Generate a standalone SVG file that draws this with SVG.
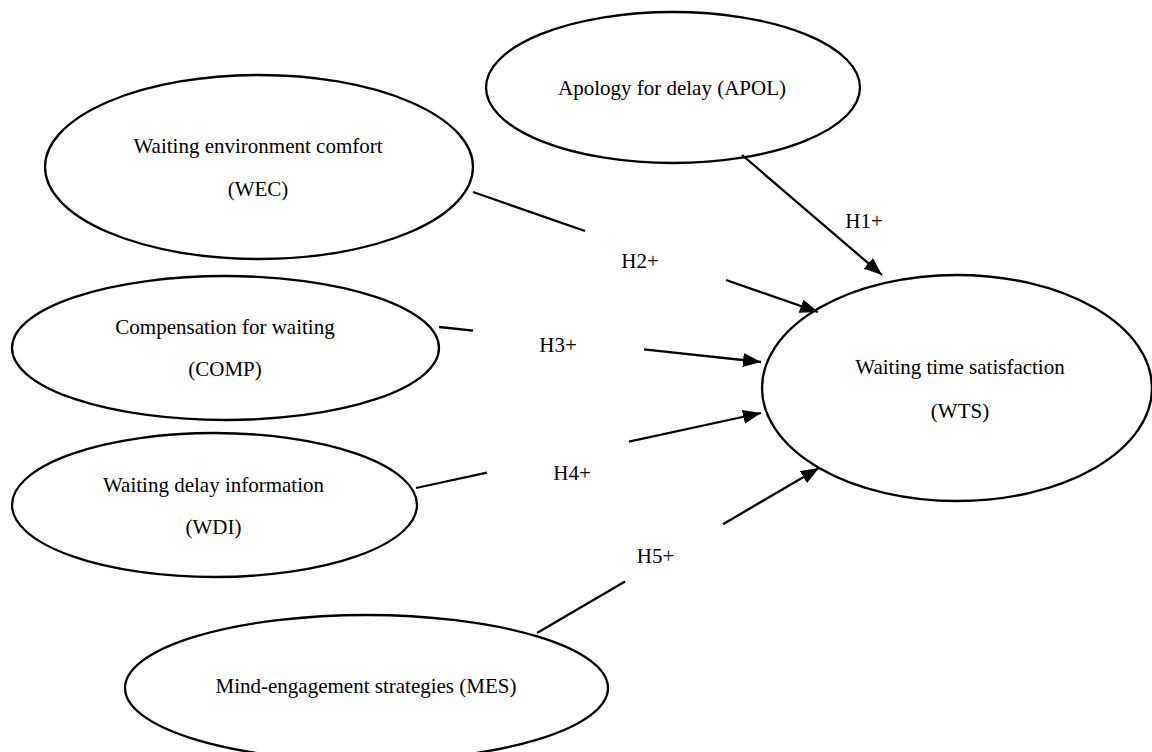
<svg xmlns="http://www.w3.org/2000/svg" width="1152" height="752" viewBox="0 0 1152 752">
  <style>
    .node ellipse { fill: #ffffff; stroke: #000000; stroke-width: 2.3; }
    .node text, .lbl { font-family: "Liberation Serif", "Times New Roman", serif; font-size: 21px; fill: #000000; text-anchor: middle; }
    .conn line { stroke: #000000; stroke-width: 2.3; fill: none; }
  </style>
  <defs>
    <marker id="arrow" viewBox="0 0 18 14" refX="18" refY="7" markerWidth="18" markerHeight="14" markerUnits="userSpaceOnUse" orient="auto">
      <path d="M0,0 L18,7 L0,14 z" fill="#000000"/>
    </marker>
  </defs>
  <rect x="0" y="0" width="1152" height="752" fill="#ffffff"/>

  <g id="node-apol" class="node">
    <ellipse cx="673" cy="87.5" rx="187" ry="75.5"/>
    <text x="672" y="95">Apology for delay (APOL)</text>
  </g>
  <g id="node-wec" class="node">
    <ellipse cx="259" cy="167" rx="214" ry="92"/>
    <text x="258" y="153">Waiting environment comfort</text>
    <text x="258" y="196">(WEC)</text>
  </g>
  <g id="node-comp" class="node">
    <ellipse cx="225.5" cy="348" rx="213.5" ry="72"/>
    <text x="225" y="334">Compensation for waiting</text>
    <text x="225" y="376">(COMP)</text>
  </g>
  <g id="node-wdi" class="node">
    <ellipse cx="214.5" cy="505" rx="202.5" ry="72"/>
    <text x="213.5" y="492">Waiting delay information</text>
    <text x="213.5" y="534">(WDI)</text>
  </g>
  <g id="node-mes" class="node">
    <ellipse cx="366.5" cy="688" rx="241.5" ry="73"/>
    <text x="366" y="693">Mind-engagement strategies (MES)</text>
  </g>
  <g id="node-wts" class="node">
    <ellipse cx="957" cy="388" rx="195" ry="113"/>
    <text x="960" y="374">Waiting time satisfaction</text>
    <text x="960" y="418">(WTS)</text>
  </g>

  <g id="connectors" class="conn">
    <line x1="742" y1="155" x2="882" y2="275" marker-end="url(#arrow)"/>
    <line x1="473" y1="192" x2="585" y2="231"/>
    <line x1="726" y1="280" x2="818" y2="312" marker-end="url(#arrow)"/>
    <line x1="439" y1="327" x2="473" y2="330.7"/>
    <line x1="644" y1="349.3" x2="761" y2="362" marker-end="url(#arrow)"/>
    <line x1="416" y1="488" x2="487" y2="472.6"/>
    <line x1="629" y1="441.7" x2="761" y2="413" marker-end="url(#arrow)"/>
    <line x1="537" y1="633" x2="625" y2="581.5"/>
    <line x1="723" y1="524.2" x2="819" y2="468" marker-end="url(#arrow)"/>
  </g>

  <g id="labels">
    <text class="lbl" x="864" y="228">H1+</text>
    <text class="lbl" x="640" y="268">H2+</text>
    <text class="lbl" x="558" y="352">H3+</text>
    <text class="lbl" x="572" y="480">H4+</text>
    <text class="lbl" x="655.5" y="563">H5+</text>
  </g>
</svg>
